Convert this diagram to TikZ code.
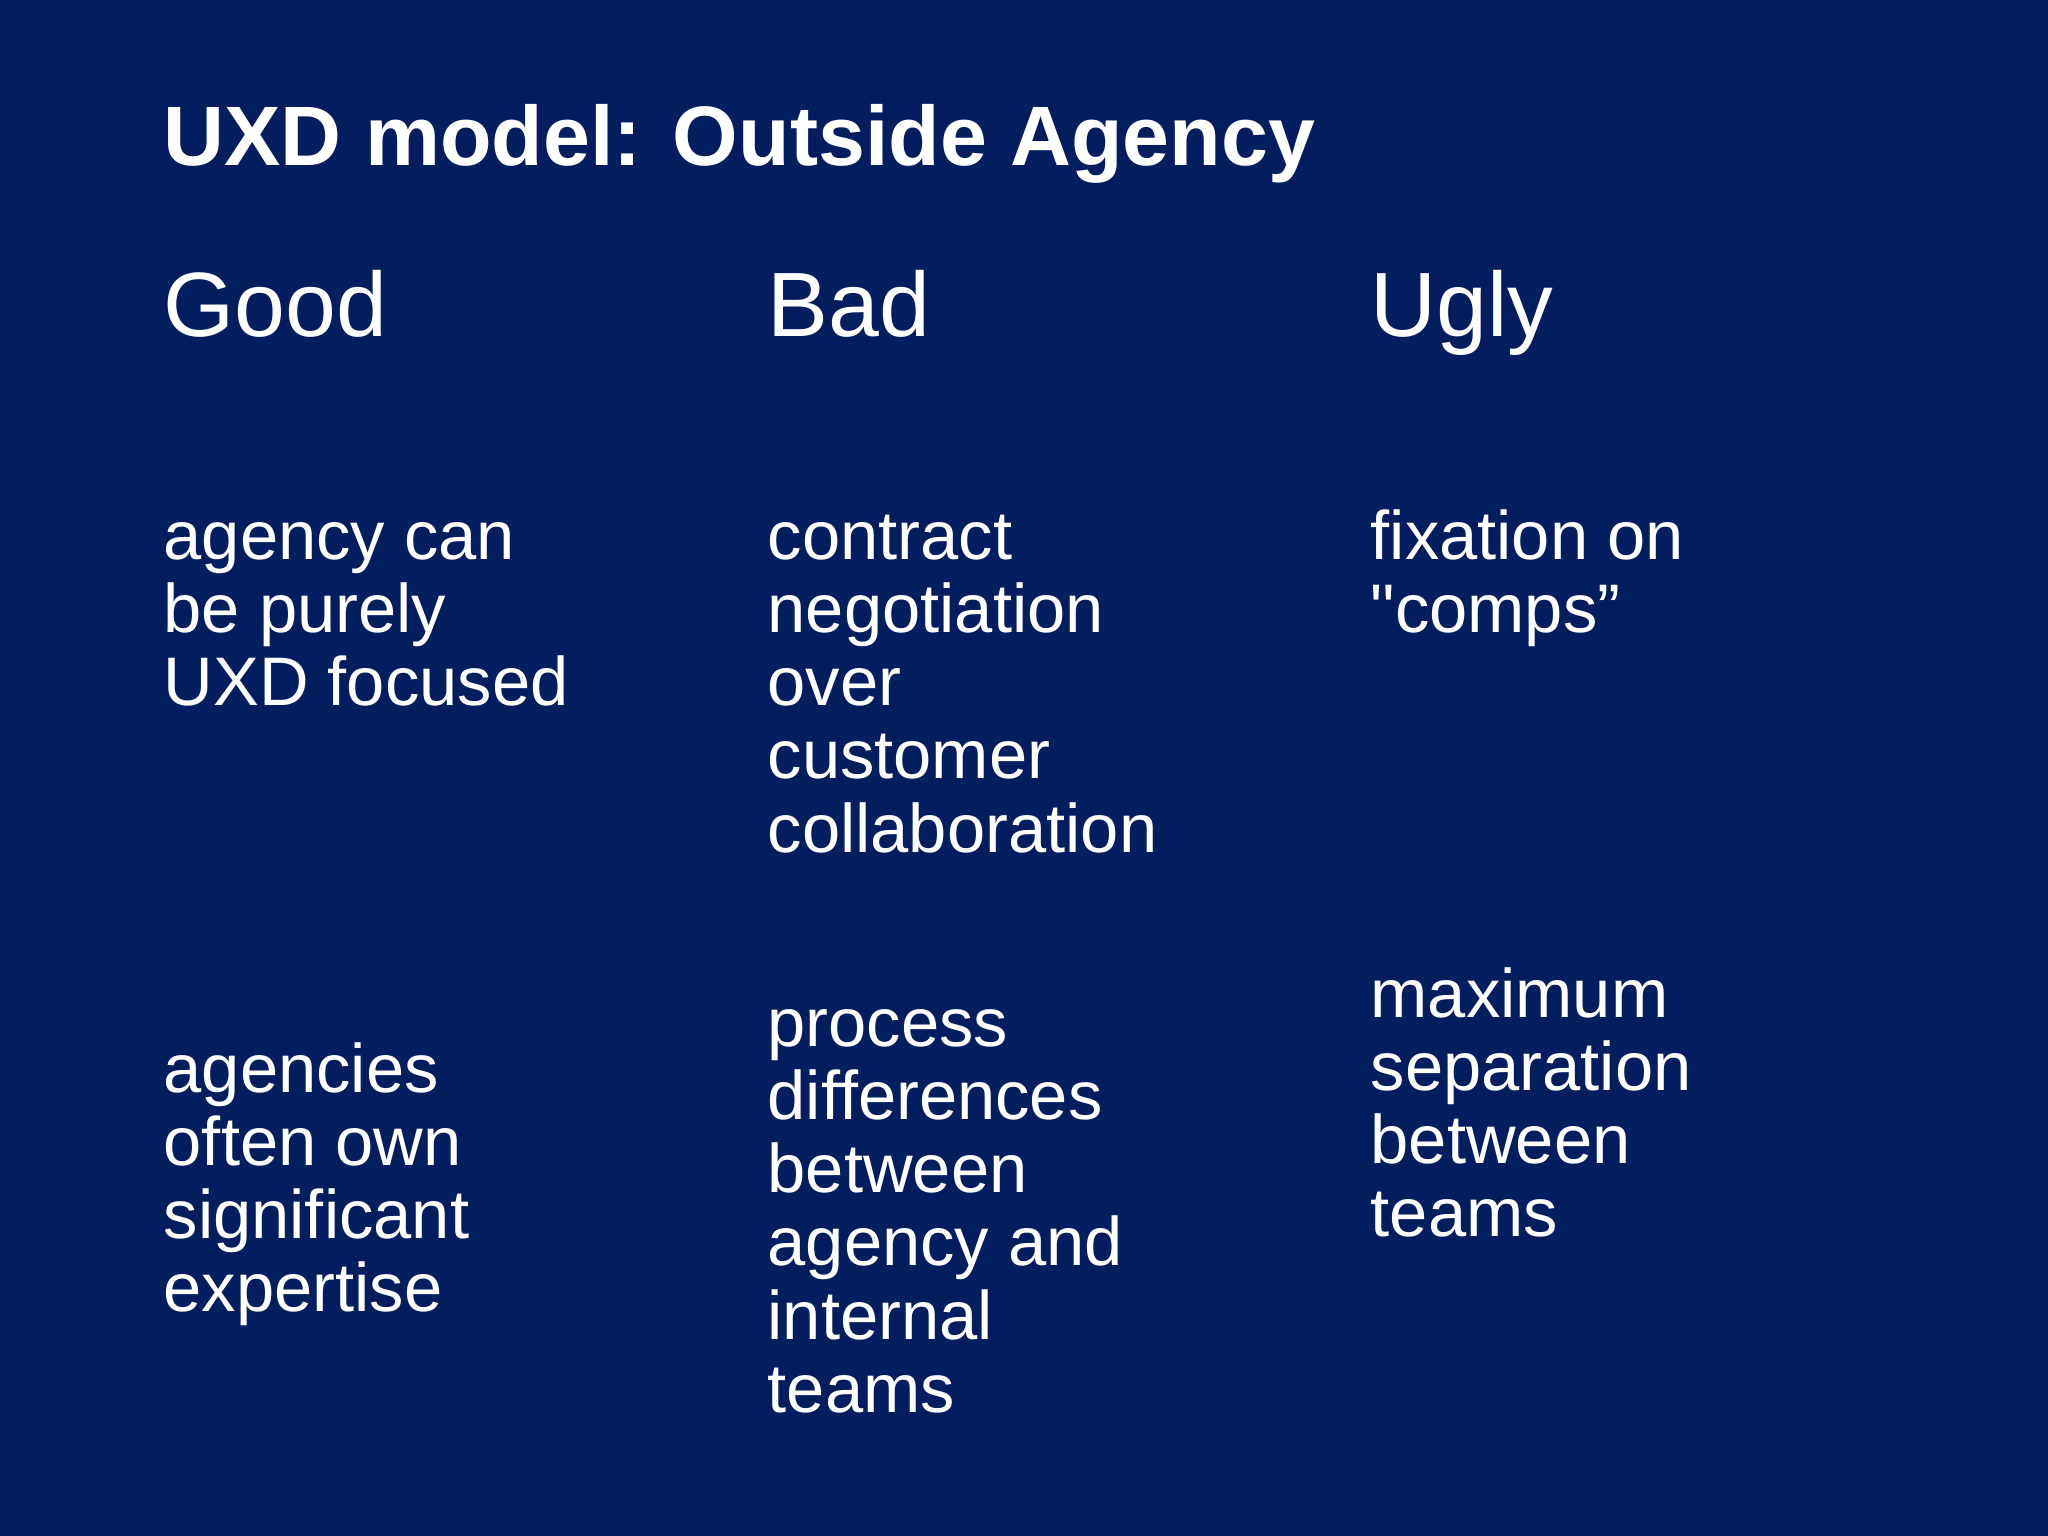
\documentclass[tikz,border=0pt]{standalone}
\usepackage{fontspec}
\setmainfont{Liberation Sans}
\definecolor{bg}{RGB}{3,30,94}
\begin{document}
\begin{tikzpicture}[x=1cm,y=1cm,
  txt/.style={anchor=north west,inner sep=0,text=white,align=left},
  body/.style={txt,font=\fontsize{19.55pt}{20.8pt}\selectfont},
  head/.style={anchor=base west,inner sep=0,text=white,font=\fontsize{26pt}{30pt}\selectfont}]
\fill[bg] (0,0) rectangle (20.48,15.36);
\useasboundingbox (0,0) rectangle (20.48,15.36);
\node[anchor=base west,inner sep=0,text=white,font=\fontsize{24pt}{30pt}\selectfont\bfseries] (title) at (1.63,13.70) {UXD model: Outside Agency};
\node[head] (good) at (1.63,11.99) {Good};
\node[head] (bad) at (7.67,11.99) {Bad};
\node[head] (ugly) at (13.70,11.99) {Ugly};
\node[body] (g1) at (1.63,9.77+0.512) {\strut agency can\\be purely\\UXD focused};
\node[body] (b1) at (7.67,9.77+0.512) {\strut contract\\negotiation\\over\\customer\\collaboration};
\node[body] (u1) at (13.70,9.77+0.512) {\strut fixation on\\\textquotedbl comps”};
\node[body] (g2) at (1.63,4.44+0.512) {\strut agencies\\often own\\significant\\expertise};
\node[body] (b2) at (7.67,4.90+0.512) {\strut process\\differences\\between\\agency and\\internal\\teams};
\node[body] (u2) at (13.70,5.19+0.512) {\strut maximum\\separation\\between\\teams};
\end{tikzpicture}
\end{document}
